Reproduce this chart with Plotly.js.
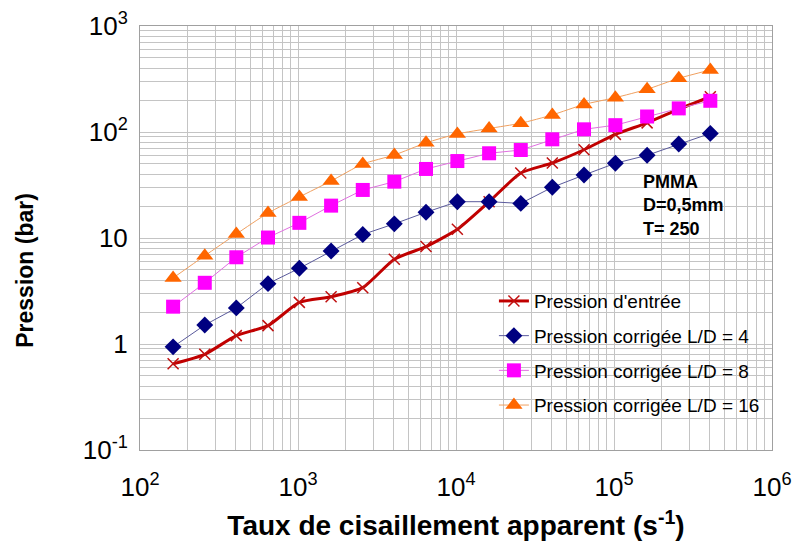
<!DOCTYPE html>
<html>
<head>
<meta charset="utf-8">
<script src="https://cdn.plot.ly/plotly-3.0.1.min.js"></script>
<style>
html,body{margin:0;padding:0;background:#fff;}
#chart{width:796px;height:544px;}
</style>
</head>
<body>
<div id="chart"></div>
<script>
// Shear rate (s^-1)
const shearRate = [162, 257, 407, 646, 1020, 1620, 2570, 4070, 6460, 10200, 16200, 25700, 40700, 64600, 102000, 162000, 257000, 407000];
// Pressures (bar)
const pEntree = [0.65, 0.80, 1.20, 1.49, 2.47, 2.79, 3.40, 6.3, 8.3, 12.1, 22, 41, 51, 68, 95, 122, 164, 215];
const pLD4    = [0.94, 1.51, 2.19, 3.71, 5.18, 7.54, 10.8, 13.6, 17.5, 22, 22, 21.2, 30.1, 39.3, 50.7, 60.3, 77, 97];
const pLD8    = [2.25, 3.78, 6.58, 10.1, 13.9, 20.2, 28.4, 34.0, 44.8, 53.2, 63, 67.6, 85.3, 106, 116, 140, 167, 197];
const pLD16   = [4.2, 6.8, 10.9, 17.2, 24.4, 34.5, 49.9, 60.7, 79, 96, 108, 121, 145, 182, 211, 253, 321, 385];

const seriesNames = ["Pression d'entrée", "Pression corrigée L/D = 4", "Pression corrigée L/D = 8", "Pression corrigée L/D = 16"];

const xTickVals = [100, 1000, 10000, 100000, 1000000];
const xTickText = ["10<sup>2</sup>", "10<sup>3</sup>", "10<sup>4</sup>", "10<sup>5</sup>", "10<sup>6</sup>"];
const yTickVals = [0.1, 1, 10, 100, 1000];
const yTickText = ["10<sup>-1</sup>", "1", "10", "10<sup>2</sup>", "10<sup>3</sup>"];

const traces = [
  {
    x: shearRate, y: pEntree, name: seriesNames[0], legendgroup: 'a',
    mode: 'lines+markers', type: 'scatter',
    line: {color: '#C00000', width: 3, shape: 'spline', smoothing: 0.6},
    marker: {symbol: 'x-thin', size: 11, line: {color: '#C01010', width: 1.5}, color: '#C01010'}
  },
  {
    x: shearRate, y: pLD4, name: seriesNames[1], legendgroup: 'b',
    mode: 'lines+markers', type: 'scatter',
    line: {color: '#5a5a9c', width: 1},
    marker: {symbol: 'diamond', size: 13, color: '#000080'}
  },
  {
    x: shearRate, y: pLD8, name: seriesNames[2], legendgroup: 'c',
    mode: 'lines+markers', type: 'scatter',
    line: {color: '#e070e0', width: 1},
    marker: {symbol: 'square', size: 14, color: '#FF00FF'}
  },
  {
    x: shearRate, y: pLD16, name: seriesNames[3], legendgroup: 'd',
    mode: 'lines+markers', type: 'scatter',
    line: {color: '#f0a060', width: 1, shape: 'spline', smoothing: 0.6},
    marker: {symbol: 'triangle-up', size: 15, color: '#FF6600'}
  }
];

const gridCol = '#c4c4c4';
const narrow = 'Liberation Sans Narrow, Liberation Sans, Arial, sans-serif';
const sans = 'Liberation Sans, Arial, sans-serif';
const layout = {
  width: 796, height: 544,
  margin: {l: 140, r: 24, t: 26, b: 94},
  paper_bgcolor: '#ffffff', plot_bgcolor: '#ffffff',
  font: {family: sans, color: '#000'},
  showlegend: true,
  legend: {
    x: 0.560, y: 0.396, xanchor: 'left', yanchor: 'top',
    bgcolor: 'rgba(0,0,0,0)', borderwidth: 0,
    font: {size: 19, family: sans},
    tracegroupgap: 7, itemwidth: 30
  },
  xaxis: {
    type: 'log', range: [2, 6],
    tickmode: 'array', tickvals: xTickVals, ticktext: xTickText,
    tickfont: {size: 26, family: narrow},
    ticks: '', ticklabelstandoff: 14,
    showgrid: true, gridcolor: gridCol, gridwidth: 1,
    minor: {dtick: 'D1', showgrid: true, gridcolor: gridCol, gridwidth: 1, ticks: ''},
    showline: true, linecolor: '#a0a0a0', linewidth: 1, mirror: true,
    zeroline: false,
    title: {text: 'Taux de cisaillement apparent (s<sup>-1</sup>)', standoff: 14,
            font: {size: 28, family: sans, weight: 'bold'}}
  },
  yaxis: {
    type: 'log', range: [-1, 3],
    tickmode: 'array', tickvals: yTickVals, ticktext: yTickText,
    tickfont: {size: 26, family: narrow},
    ticks: '', ticklabelstandoff: 6,
    showgrid: true, gridcolor: gridCol, gridwidth: 1,
    minor: {dtick: 'D1', showgrid: true, gridcolor: gridCol, gridwidth: 1, ticks: ''},
    showline: true, linecolor: '#a0a0a0', linewidth: 1, mirror: true,
    zeroline: false
  },
  annotations: [
    {
      xref: 'paper', yref: 'paper', x: -0.182, y: 0.425, xanchor: 'center', yanchor: 'middle',
      textangle: -90, showarrow: false,
      text: '<b>Pression (bar)</b>',
      font: {size: 23, family: sans, color: '#000'}
    },
    {
      xref: 'paper', yref: 'paper', x: 0.792, y: 0.660, xanchor: 'left', yanchor: 'top',
      align: 'left', showarrow: false,
      text: '<b>PMMA<br>D=0,5mm<br>T= 250</b>',
      font: {size: 18, family: sans, color: '#000'}
    }
  ]
};

Plotly.newPlot('chart', traces, layout, {displayModeBar: false, staticPlot: true});
</script>
</body>
</html>
